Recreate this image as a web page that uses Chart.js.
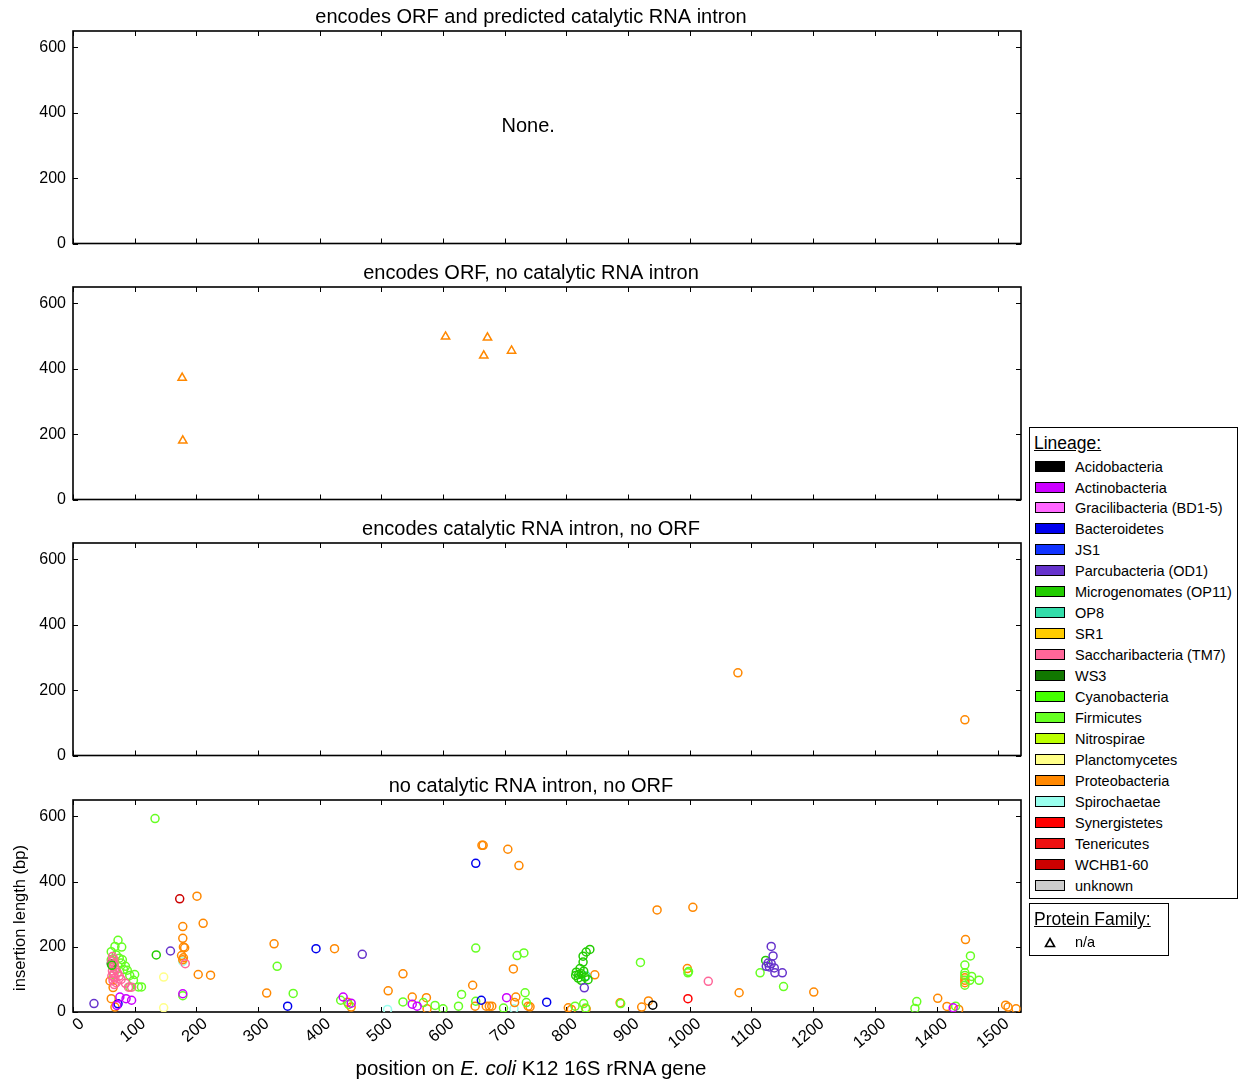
<!DOCTYPE html>
<html>
<head>
<meta charset="utf-8">
<script src="https://cdn.jsdelivr.net/npm/chart.js@4.4.1/dist/chart.umd.min.js"></script>
<style>
  body { margin: 0; background: #fff; font-family: "Liberation Sans", Arial, sans-serif; }
  #wrap { position: relative; width: 1240px; height: 1083px; overflow: hidden; }
  canvas { position: absolute; left: 0; }
  .box { position: absolute; border: 1.5px solid #000; background: #fff; box-sizing: border-box; }
  .head { position: absolute; left: 4px; font-size: 17.5px; text-decoration: underline; line-height: 20px; }
  .row { position: absolute; left: 0; height: 18px; line-height: 18px; font-size: 14.5px; }
  .sw { position: absolute; left: 5px; top: 3px; width: 30px; height: 11px; border: 1.5px solid #000; box-sizing: border-box; }
  .lab { position: absolute; left: 45px; top: 0; white-space: nowrap; }
  #xtitle { position: absolute; left: 0; width: 1062px; top: 1056px; text-align: center; font-size: 20.5px; line-height: 24px; }
</style>
</head>
<body>
<div id="wrap">
  <canvas id="c0" width="1240" height="256" style="top:0px"></canvas>
  <canvas id="c1" width="1240" height="256" style="top:256px"></canvas>
  <canvas id="c2" width="1240" height="256" style="top:512px"></canvas>
  <canvas id="c3" width="1240" height="314" style="top:769px"></canvas>
  <div id="legend" class="box" style="left:1029px;top:427px;width:209px;height:472px"></div>
  <div id="family" class="box" style="left:1029px;top:903px;width:140px;height:53px"></div>
  <div id="xtitle">position on <i>E. coli</i> K12 16S rRNA gene</div>
</div>
<script>
// lineages and their colours
const lineageNames = ['Acidobacteria', 'Actinobacteria', 'Gracilibacteria (BD1-5)', 'Bacteroidetes', 'JS1',
  'Parcubacteria (OD1)', 'Microgenomates (OP11)', 'OP8', 'SR1', 'Saccharibacteria (TM7)', 'WS3',
  'Cyanobacteria', 'Firmicutes', 'Nitrospirae', 'Planctomycetes', 'Proteobacteria', 'Spirochaetae',
  'Synergistetes', 'Tenericutes', 'WCHB1-60', 'unknown'];
const lineageColors = ['#000000', '#cc00ff', '#ff66ff', '#0000ee', '#1133ff',
  '#6633cc', '#22cc00', '#33ddaa', '#ffcc00', '#ff6699', '#117700',
  '#44ff00', '#66ff22', '#bbff00', '#ffff88', '#ff8800', '#99ffee',
  '#ff0000', '#ee1111', '#cc0000', '#cccccc'];

const panelTitles = ['encodes ORF and predicted catalytic RNA intron', 'encodes ORF, no catalytic RNA intron',
  'encodes catalytic RNA intron, no ORF', 'no catalytic RNA intron, no ORF'];

const xTickValues = [0, 100, 200, 300, 400, 500, 600, 700, 800, 900, 1000, 1100, 1200, 1300, 1400, 1500];
const yTickValues = [0, 200, 400, 600];

// [position, insertion length, lineage]
const orfAndIntron = [];

const orfNoIntron = [
  [177, 372, 'Proteobacteria'], [178, 180, 'Proteobacteria'], [604, 498, 'Proteobacteria'],
  [672, 495, 'Proteobacteria'], [666, 440, 'Proteobacteria'], [711, 455, 'Proteobacteria']
];

const intronNoOrf = [
  [1078, 253, 'Proteobacteria'], [1446, 109, 'Proteobacteria']
];

const noIntronNoOrf = [
  // Proteobacteria
  [178, 262, 'Proteobacteria'], [178, 226, 'Proteobacteria'], [179, 199, 'Proteobacteria'], [181, 197, 'Proteobacteria'],
  [176, 173, 'Proteobacteria'], [179, 166, 'Proteobacteria'], [178, 160, 'Proteobacteria'], [201, 355, 'Proteobacteria'],
  [211, 272, 'Proteobacteria'], [203, 115, 'Proteobacteria'], [223, 113, 'Proteobacteria'], [326, 209, 'Proteobacteria'],
  [314, 58, 'Proteobacteria'], [424, 194, 'Proteobacteria'], [535, 117, 'Proteobacteria'], [511, 65, 'Proteobacteria'],
  [445, 30, 'Proteobacteria'], [451, 15, 'Proteobacteria'], [550, 46, 'Proteobacteria'], [573, 44, 'Proteobacteria'],
  [574, 10, 'Proteobacteria'], [648, 82, 'Proteobacteria'], [652, 18, 'Proteobacteria'], [670, 18, 'Proteobacteria'],
  [675, 18, 'Proteobacteria'], [679, 18, 'Proteobacteria'], [714, 132, 'Proteobacteria'], [718, 46, 'Proteobacteria'],
  [716, 29, 'Proteobacteria'], [738, 18, 'Proteobacteria'], [741, 16, 'Proteobacteria'], [803, 13, 'Proteobacteria'],
  [808, 8, 'Proteobacteria'], [832, 10, 'Proteobacteria'], [846, 114, 'Proteobacteria'], [887, 28, 'Proteobacteria'],
  [922, 15, 'Proteobacteria'], [933, 34, 'Proteobacteria'], [947, 313, 'Proteobacteria'], [1005, 321, 'Proteobacteria'],
  [996, 133, 'Proteobacteria'], [1080, 59, 'Proteobacteria'], [1201, 61, 'Proteobacteria'], [1402, 42, 'Proteobacteria'],
  [1417, 17, 'Proteobacteria'], [1436, 8, 'Proteobacteria'], [1447, 222, 'Proteobacteria'], [1446, 105, 'Proteobacteria'],
  [1446, 97, 'Proteobacteria'], [1446, 90, 'Proteobacteria'], [1512, 21, 'Proteobacteria'], [1516, 15, 'Proteobacteria'],
  [1529, 10, 'Proteobacteria'], [663, 511, 'Proteobacteria'], [665, 511, 'Proteobacteria'], [705, 499, 'Proteobacteria'],
  [723, 449, 'Proteobacteria'], [65, 75, 'Proteobacteria'], [62, 41, 'Proteobacteria'], [68, 15, 'Proteobacteria'],
  [60, 95, 'Proteobacteria'],
  // Firmicutes
  [133, 593, 'Firmicutes'], [178, 50, 'Firmicutes'], [331, 140, 'Firmicutes'], [357, 57, 'Firmicutes'],
  [434, 36, 'Firmicutes'], [447, 23, 'Firmicutes'], [535, 31, 'Firmicutes'], [568, 29, 'Firmicutes'],
  [587, 20, 'Firmicutes'], [600, 10, 'Firmicutes'], [625, 18, 'Firmicutes'], [630, 54, 'Firmicutes'],
  [653, 33, 'Firmicutes'], [653, 196, 'Firmicutes'], [720, 173, 'Firmicutes'], [731, 181, 'Firmicutes'],
  [698, 12, 'Firmicutes'], [733, 59, 'Firmicutes'], [735, 29, 'Firmicutes'], [814, 18, 'Firmicutes'],
  [828, 26, 'Firmicutes'], [831, 12, 'Firmicutes'], [888, 26, 'Firmicutes'], [920, 152, 'Firmicutes'],
  [997, 120, 'Firmicutes'], [998, 124, 'Firmicutes'], [1114, 120, 'Firmicutes'], [1152, 78, 'Firmicutes'],
  [1368, 32, 'Firmicutes'], [1365, 11, 'Firmicutes'], [1431, 18, 'Firmicutes'], [1455, 172, 'Firmicutes'],
  [1446, 144, 'Firmicutes'], [1446, 112, 'Firmicutes'], [1457, 109, 'Firmicutes'], [1469, 97, 'Firmicutes'],
  [1446, 82, 'Firmicutes'], [1454, 97, 'Firmicutes'], [1446, 120, 'Firmicutes'],
  [73, 220, 'Firmicutes'], [68, 201, 'Firmicutes'], [79, 199, 'Firmicutes'], [62, 185, 'Firmicutes'],
  [70, 175, 'Firmicutes'], [80, 160, 'Firmicutes'], [78, 150, 'Firmicutes'], [85, 140, 'Firmicutes'],
  [82, 130, 'Firmicutes'], [88, 128, 'Firmicutes'], [92, 112, 'Firmicutes'], [98, 97, 'Firmicutes'],
  [106, 77, 'Firmicutes'], [111, 77, 'Firmicutes'], [92, 77, 'Firmicutes'], [75, 165, 'Firmicutes'],
  [62, 160, 'Firmicutes'], [100, 115, 'Firmicutes'], [70, 130, 'Firmicutes'], [66, 115, 'Firmicutes'],
  // Microgenomates
  [135, 175, 'Microgenomates (OP11)'], [63, 143, 'Microgenomates (OP11)'], [838, 192, 'Microgenomates (OP11)'],
  [832, 184, 'Microgenomates (OP11)'], [827, 171, 'Microgenomates (OP11)'], [827, 153, 'Microgenomates (OP11)'],
  [822, 133, 'Microgenomates (OP11)'], [816, 122, 'Microgenomates (OP11)'], [815, 112, 'Microgenomates (OP11)'],
  [819, 104, 'Microgenomates (OP11)'], [824, 117, 'Microgenomates (OP11)'], [830, 107, 'Microgenomates (OP11)'],
  [835, 99, 'Microgenomates (OP11)'], [824, 97, 'Microgenomates (OP11)'], [820, 115, 'Microgenomates (OP11)'],
  [828, 125, 'Microgenomates (OP11)'], [1123, 158, 'Microgenomates (OP11)'],
  [62, 148, 'WS3'],
  [832, 110, 'OP8'],
  // Saccharibacteria
  [64, 170, 'Saccharibacteria (TM7)'], [66, 162, 'Saccharibacteria (TM7)'], [63, 155, 'Saccharibacteria (TM7)'],
  [67, 148, 'Saccharibacteria (TM7)'], [65, 140, 'Saccharibacteria (TM7)'], [68, 133, 'Saccharibacteria (TM7)'],
  [64, 126, 'Saccharibacteria (TM7)'], [66, 118, 'Saccharibacteria (TM7)'], [63, 110, 'Saccharibacteria (TM7)'],
  [68, 104, 'Saccharibacteria (TM7)'], [65, 96, 'Saccharibacteria (TM7)'], [70, 90, 'Saccharibacteria (TM7)'],
  [67, 84, 'Saccharibacteria (TM7)'], [72, 120, 'Saccharibacteria (TM7)'], [75, 110, 'Saccharibacteria (TM7)'],
  [78, 100, 'Saccharibacteria (TM7)'], [90, 76, 'Saccharibacteria (TM7)'], [95, 76, 'Saccharibacteria (TM7)'],
  [85, 88, 'Saccharibacteria (TM7)'], [182, 148, 'Saccharibacteria (TM7)'], [1030, 94, 'Saccharibacteria (TM7)'],
  // Actinobacteria
  [76, 46, 'Actinobacteria'], [86, 41, 'Actinobacteria'], [95, 36, 'Actinobacteria'], [71, 20, 'Actinobacteria'],
  [178, 56, 'Actinobacteria'], [438, 46, 'Actinobacteria'], [451, 27, 'Actinobacteria'], [550, 24, 'Actinobacteria'],
  [558, 18, 'Actinobacteria'], [703, 44, 'Actinobacteria'], [1427, 13, 'Actinobacteria'],
  // Bacteroidetes
  [73, 25, 'Bacteroidetes'], [348, 18, 'Bacteroidetes'], [394, 194, 'Bacteroidetes'], [653, 456, 'Bacteroidetes'],
  [662, 36, 'Bacteroidetes'], [768, 30, 'Bacteroidetes'],
  // Parcubacteria
  [34, 26, 'Parcubacteria (OD1)'], [158, 187, 'Parcubacteria (OD1)'], [469, 177, 'Parcubacteria (OD1)'],
  [829, 74, 'Parcubacteria (OD1)'], [1132, 201, 'Parcubacteria (OD1)'], [1135, 172, 'Parcubacteria (OD1)'],
  [1132, 148, 'Parcubacteria (OD1)'], [1124, 140, 'Parcubacteria (OD1)'], [1129, 138, 'Parcubacteria (OD1)'],
  [1137, 135, 'Parcubacteria (OD1)'], [1138, 120, 'Parcubacteria (OD1)'], [1150, 120, 'Parcubacteria (OD1)'],
  [1127, 150, 'Parcubacteria (OD1)'],
  // others
  [147, 107, 'Planctomycetes'], [147, 13, 'Planctomycetes'],
  [178, 155, 'Spirochaetae'], [510, 8, 'Spirochaetae'], [715, 10, 'Spirochaetae'],
  [173, 347, 'WCHB1-60'],
  [997, 41, 'Synergistetes'],
  [940, 21, 'Acidobacteria']
];

const panels = [orfAndIntron, orfNoIntron, intronNoOrf, noIntronNoOrf];
const panelMarkers = ['circle', 'triangle', 'circle', 'circle'];
const FONT = '"Liberation Sans", Arial, sans-serif';

// full frame with inward ticks on all four sides
const frameTicks = {
  id: 'frameTicks',
  beforeDatasetsDraw(chart) {
    const { ctx, chartArea: a, scales: { x, y } } = chart;
    ctx.save();
    ctx.strokeStyle = '#000';
    ctx.lineWidth = 1;
    ctx.beginPath();
    x.ticks.forEach(t => {
      const px = Math.round(x.getPixelForValue(t.value)) + 0.5;
      ctx.moveTo(px, a.bottom); ctx.lineTo(px, a.bottom - 5);
      ctx.moveTo(px, a.top); ctx.lineTo(px, a.top + 5);
    });
    y.ticks.forEach(t => {
      const py = Math.round(y.getPixelForValue(t.value)) + 0.5;
      ctx.moveTo(a.left, py); ctx.lineTo(a.left + 5, py);
      ctx.moveTo(a.right, py); ctx.lineTo(a.right - 5, py);
    });
    ctx.stroke();
    ctx.lineWidth = 1.6;
    ctx.strokeRect(a.left, a.top, a.right - a.left, a.bottom - a.top);
    ctx.restore();
  }
};

// panel title, and the y axis title of the bottom panel
const panelText = {
  id: 'panelText',
  afterDraw(chart, args, opts) {
    const { ctx, chartArea: a } = chart;
    ctx.save();
    ctx.fillStyle = '#000';
    ctx.font = '20px ' + FONT;
    ctx.textAlign = 'center';
    ctx.textBaseline = 'middle';
    ctx.fillText(opts.title, 531, a.top - 14);
    if (opts.yTitle) {
      ctx.font = '16.5px ' + FONT;
      ctx.translate(20, (a.top + a.bottom) / 2 + 12);
      ctx.rotate(-Math.PI / 2);
      ctx.fillText(opts.yTitle, 0, 0);
    }
    ctx.restore();
  }
};

const noneLabel = {
  id: 'noneLabel',
  afterDraw(chart) {
    const { ctx, scales: { x, y } } = chart;
    ctx.save();
    ctx.fillStyle = '#000';
    ctx.font = '20px ' + FONT;
    ctx.textAlign = 'center';
    ctx.textBaseline = 'middle';
    ctx.fillText('None.', x.getPixelForValue(738), y.getPixelForValue(357));
    ctx.restore();
  }
};

function makePanel(k) {
  const pts = panels[k];
  const isBottom = k === 3;
  const datasets = lineageNames.map((name, i) => ({
    label: name,
    data: pts.filter(p => p[2] === name).map(p => ({ x: p[0], y: p[1] })),
    pointStyle: panelMarkers[k],
    pointRadius: panelMarkers[k] === 'triangle' ? 4.8 : 4,
    pointBorderWidth: 1.5,
    pointBorderColor: lineageColors[i],
    pointBackgroundColor: 'rgba(0,0,0,0)',
    showLine: false
  })).filter(d => d.data.length > 0);

  new Chart(document.getElementById('c' + k), {
    type: 'scatter',
    data: { datasets },
    options: {
      responsive: false,
      animation: false,
      devicePixelRatio: 1,
      layout: { autoPadding: false, padding: { left: 0, right: 219, top: 31, bottom: 0 } },
      plugins: {
        legend: { display: false },
        tooltip: { enabled: false },
        title: { display: false },
        panelText: { title: panelTitles[k], yTitle: isBottom ? 'insertion length (bp)' : '' }
      },
      scales: {
        x: {
          type: 'linear', min: 0, max: 1537,
          afterBuildTicks: s => { s.ticks = xTickValues.map(v => ({ value: v })); },
          afterFit: s => {
            s.height = isBottom ? 71 : 12.5;
            s.paddingLeft = 0; s.paddingRight = 0; s.paddingTop = 0; s.paddingBottom = 0;
          },
          grid: { display: false, drawTicks: false, tickLength: 0 }, border: { display: false },
          ticks: {
            display: isBottom, autoSkip: false, minRotation: 40, maxRotation: 40,
            color: '#000', padding: 2, labelOffset: 9, font: { family: FONT, size: 16.5 },
            callback: v => String(v)
          }
        },
        y: {
          type: 'linear', min: 0, max: 650,
          afterBuildTicks: s => { s.ticks = yTickValues.map(v => ({ value: v })); },
          afterFit: s => {
            s.width = 73;
            s.paddingLeft = 0; s.paddingRight = 0; s.paddingTop = 0; s.paddingBottom = 0;
          },
          grid: { display: false, drawTicks: false, tickLength: 0 }, border: { display: false },
          ticks: { color: '#000', padding: 7, font: { family: FONT, size: 16 }, callback: v => String(v) }
        }
      }
    },
    plugins: k === 0 ? [frameTicks, panelText, noneLabel] : [frameTicks, panelText]
  });
}

[0, 1, 2, 3].forEach(makePanel);

// legend boxes
const legend = document.getElementById('legend');
legend.innerHTML = '<div class="head" style="top:5px">Lineage:</div>' +
  lineageNames.map((name, i) =>
    '<div class="row" style="top:' + (29.5 + i * 20.97).toFixed(1) + 'px">' +
    '<span class="sw" style="background:' + lineageColors[i] + '"></span>' +
    '<span class="lab">' + name + '</span></div>').join('');

const family = document.getElementById('family');
family.innerHTML = '<div class="head" style="top:5px">Protein Family:</div>' +
  '<div class="row" style="top:29px"><svg style="position:absolute;left:14px;top:4px" width="12" height="11">' +
  '<polygon points="6,1.5 10.5,9.5 1.5,9.5" fill="none" stroke="#000" stroke-width="1.6"/></svg>' +
  '<span class="lab">n/a</span></div>';
</script>
</body>
</html>
